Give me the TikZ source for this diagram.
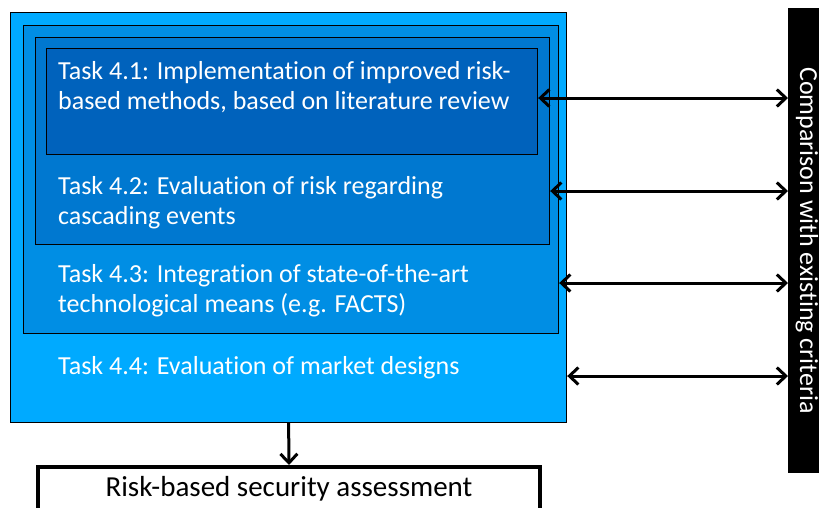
\documentclass[tikz,border=0pt]{standalone}
\usepackage{fontspec}
\setmainfont{Carlito}[RawFeature={-liga;-clig;-calt;-dlig}]
\usetikzlibrary{arrows.meta}

\definecolor{taskfourA}{RGB}{0,98,188}
\definecolor{taskfourB}{RGB}{0,120,208}
\definecolor{taskfourC}{RGB}{0,142,228}
\definecolor{taskfourD}{RGB}{0,170,255}

\tikzset{
    taskbox/.style={draw=black, line width=1.2pt, anchor=north west, inner sep=0pt},
    tasktext/.style={anchor=north west, inner sep=0pt, text=white, align=left,
        font=\fontsize{26}{30}\selectfont},
    barb/.tip={Straight Barb[length=9pt,width=17pt,line width=3pt]},
    link/.style={line width=3pt, barb-barb},
    feed/.style={line width=3pt, -barb},
}

\begin{document}
\begin{tikzpicture}[x=1pt, y=-1pt]
    \useasboundingbox (0,0) rectangle (819,507);

    % nested task boxes
    \node[taskbox, fill=taskfourD, minimum width=556pt, minimum height=410pt] (box44) at (10,12) {};
    \node[taskbox, fill=taskfourC, minimum width=535pt, minimum height=308pt] (box43) at (23,25) {};
    \node[taskbox, fill=taskfourB, minimum width=514pt, minimum height=207pt] (box42) at (35,37) {};
    \node[taskbox, fill=taskfourA, minimum width=491pt, minimum height=106pt] (box41) at (46,48) {};

    \node[tasktext] (txt41) at (58,61) {Task 4.1: Implementation of improved risk-\\based methods, based on literature review};
    \node[tasktext] (txt42) at (58,176) {Task 4.2: Evaluation of risk regarding\\cascading events};
    \node[tasktext] (txt43) at (58,264) {Task 4.3: Integration of state-of-the-art\\technological means (e.g. FACTS)};
    \node[tasktext] (txt44) at (58,356) {Task 4.4: Evaluation of market designs};

    % comparison bar
    \node[fill=black, inner sep=0pt, anchor=north west, minimum width=40pt, minimum height=465pt] (bar) at (788,8) {};
    \node[rotate=-90, text=white, inner sep=0pt, font=\fontsize{26}{30}\selectfont] (cmp) at (807,240.5) {Comparison with existing criteria};

    \draw[link] (box41.east |- 0,98) -- (bar.west |- 0,98);
    \draw[link] (box42.east |- 0,191) -- (bar.west |- 0,191);
    \draw[link] (box43.east |- 0,283) -- (bar.west |- 0,283);
    \draw[link] (box44.east |- 0,376) -- (bar.west |- 0,376);

    % result
    \node[draw=black, line width=4pt, anchor=north, inner sep=0pt, minimum width=502pt, minimum height=70pt] (assess) at (289,465) {};
    \node[inner sep=0pt, font=\fontsize{29}{34}\selectfont] (assesstxt) at (289,489) {Risk-based security assessment};

    \draw[feed] (box44.south) -- (assess.north);
\end{tikzpicture}
\end{document}
